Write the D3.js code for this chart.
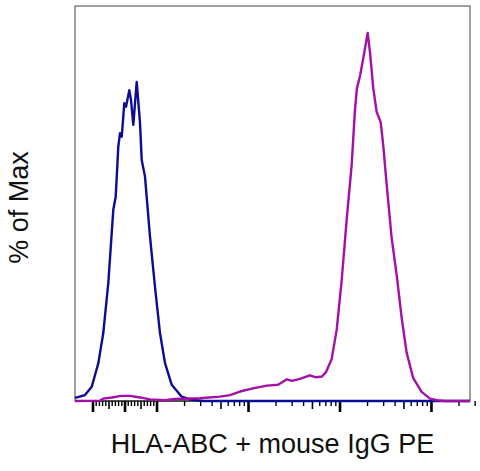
<!DOCTYPE html>
<html>
<head>
<meta charset="utf-8">
<script src="https://cdn.jsdelivr.net/npm/d3@7"></script>
<style>
  body { margin: 0; background: #fff; }
  svg { display: block; font-family: "Liberation Sans", Arial, sans-serif; }
</style>
</head>
<body>
<div id="graph"></div>
<script>
// fluorescence intensity (x) and % of max (y)
const isotypeX = [-1553, -1208, -1019, -817, -663, -506, -350, -275, -194, -140, -87, -6, 47, 150, 203, 275, 381, 484, 537, 640, 796, 952, 1091, 1238, 1466, 1884, 2423, 3221, 2670000];
const isotypeY = [0.8, 1.5, 3.6, 9.6, 17.2, 29.9, 48.4, 51.7, 64.4, 67.8, 66.9, 75.4, 74.5, 78.7, 76.2, 69.9, 80.8, 70.4, 61.0, 56.8, 41.6, 28.9, 17.2, 9.6, 4.1, 1.1, 0.3, 0, 0];

const stainX = [-1553, -765, -671, -390, -109, 172, 484, 796, 1238, 1592, 2985, 4943, 6353, 8166, 11330, 16110, 21280, 26670, 30270, 36980, 47550, 55330, 64310, 71120, 82070, 93130, 105700, 119700, 135800, 147600, 155200, 167500, 182000, 203200, 215300, 233900, 254700, 281800, 300600, 328100, 371500, 421700, 478600, 542000, 639700, 790700, 975000, 1161000, 1422000, 2670000];
const stainY = [0, 0.1, 0.6, 0.9, 1.3, 1.3, 0.9, 0.4, 0.2, 0.5, 0.7, 1.1, 1.5, 2.4, 3.2, 3.9, 4.1, 5.5, 5.1, 5.6, 6.5, 6.0, 6.2, 7.3, 10.6, 18.0, 30.6, 45.8, 59.7, 73.7, 79.2, 82.3, 86.8, 93.2, 88.4, 79.2, 73.2, 70.6, 64.8, 54.7, 41.3, 31.9, 21.0, 12.2, 5.8, 2.3, 0.6, 0.2, 0, 0];

const majorTicks = [-1000, 0, 1e3, 1e4, 1e5, 1e6];
const mediumTicks = [-500, 500, 5e3, 5e4, 5e5];
const xLabel = "HLA-ABC + mouse IgG PE";
const yLabel = "% of Max";

const width = 480;
const height = 471;
const margin = { left: 75, right: 10, top: 6, bottom: 70 };
const blue = "#0c0c96";
const magenta = "#a310a8";

// logicle-like display: linear around zero, log beyond +-1000
const linW = 1000;
const linS = 0.35;
function disp(v) {
  let a = Math.abs(v);
  return a <= linW ? v / linW * linS : Math.sign(v) * (linS + Math.log10(a / linW));
}

// minor ticks: hundreds in the linear part, 2..9 of each decade above
let minorTicks = [];
for (let k = 1; k < 10; k++) {
  if (k !== 5) minorTicks.push(-k * 100, k * 100);
}
for (let d = 3; d <= 6; d++) {
  for (let k = 2; k < 10; k++) {
    if (k !== 5) minorTicks.push(k * Math.pow(10, d));
  }
}

let svg = d3.select('#graph')
  .append('svg')
  .attr('width', width)
  .attr('height', height);

let xScale = d3.scaleLinear()
  .domain([disp(isotypeX[0]), disp(isotypeX[isotypeX.length - 1])])
  .range([margin.left, width - margin.right]);
let X = v => xScale(disp(v));

let yScale = d3.scaleLinear()
  .domain([0, 100])
  .range([height - margin.bottom, margin.top]);

// frame
svg.append('rect')
  .attr('x', margin.left)
  .attr('y', margin.top)
  .attr('width', width - margin.left - margin.right)
  .attr('height', height - margin.top - margin.bottom)
  .attr('fill', 'none')
  .attr('stroke', '#444')
  .attr('stroke-width', 1);

// ticks (no labels)
let tickScale = d3.scaleLinear().domain(xScale.range()).range(xScale.range());
function tickAxis(values, size, w) {
  let g = svg.append('g')
    .attr('transform', `translate(0, ${height - margin.bottom})`)
    .call(d3.axisBottom(tickScale)
      .tickValues(values.map(X))
      .tickSize(size)
      .tickFormat(''));
  g.select('.domain').remove();
  g.selectAll('line').attr('stroke', '#000').attr('stroke-width', w);
}
tickAxis(minorTicks, 5, 1.4);
tickAxis(mediumTicks, 8, 1.6);
tickAxis(majorTicks, 11, 2.6);

svg.append('line')
  .attr('x1', margin.left)
  .attr('x2', width - margin.right)
  .attr('y1', yScale(0))
  .attr('y2', yScale(0))
  .attr('stroke', '#000')
  .attr('stroke-width', 1);

// histograms
let line = d3.line()
  .x(d => X(d[0]))
  .y(d => yScale(d[1]));

svg.append('path')
  .datum(d3.zip(isotypeX, isotypeY))
  .attr('fill', 'none')
  .attr('stroke', blue)
  .attr('stroke-width', 2.4)
  .attr('stroke-linejoin', 'round')
  .attr('d', line);

svg.append('path')
  .datum(d3.zip(stainX, stainY))
  .attr('fill', 'none')
  .attr('stroke', magenta)
  .attr('stroke-width', 2.4)
  .attr('stroke-linejoin', 'round')
  .attr('d', line);

// axis titles
svg.append('text')
  .attr('text-anchor', 'middle')
  .attr('x', (margin.left + width - margin.right) / 2)
  .attr('y', 453)
  .attr('font-size', 27)
  .attr('fill', '#111')
  .text(xLabel);

svg.append('text')
  .attr('text-anchor', 'middle')
  .attr('transform', `translate(28, ${(margin.top + height - margin.bottom) / 2 + 4}) rotate(-90)`)
  .attr('font-size', 27)
  .attr('fill', '#111')
  .text(yLabel);
</script>
</body>
</html>
